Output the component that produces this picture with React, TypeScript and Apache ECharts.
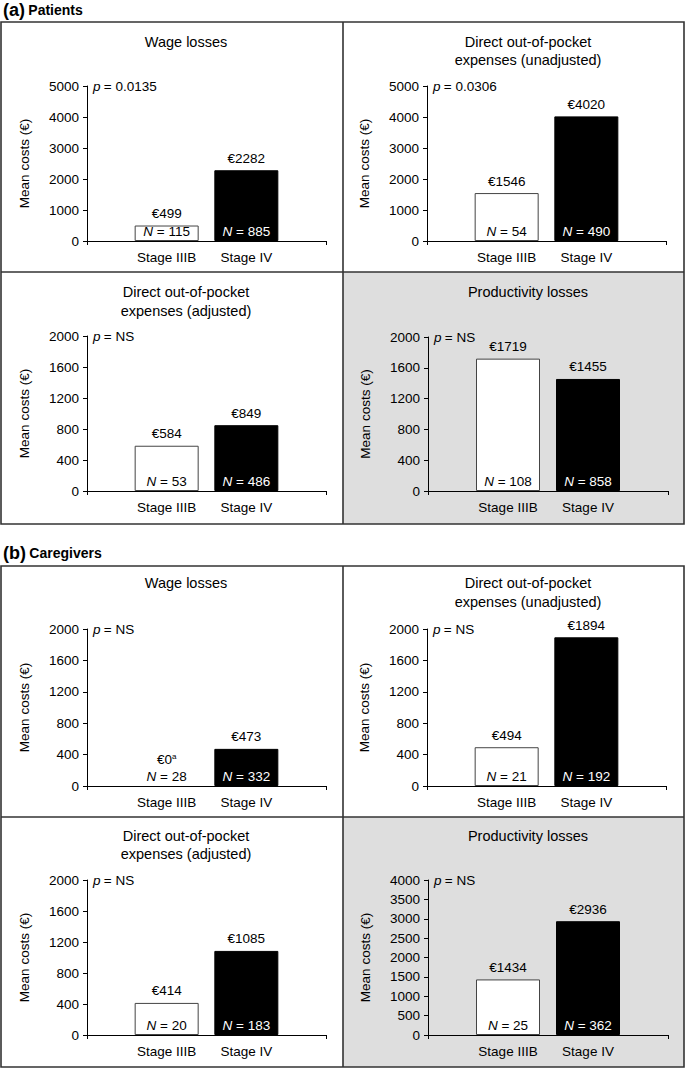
import React, { useEffect, useRef } from "react";
import * as echarts from "echarts";

// ---------- data ----------
const categories = ["", "Stage IIIB", "Stage IV", ""];
const panelTitles = [
  ["Wage losses"],
  ["Direct out-of-pocket", "expenses (unadjusted)"],
  ["Direct out-of-pocket", "expenses (adjusted)"],
  ["Productivity losses"],
  ["Wage losses"],
  ["Direct out-of-pocket", "expenses (unadjusted)"],
  ["Direct out-of-pocket", "expenses (adjusted)"],
  ["Productivity losses"],
];
const pValues = ["0.0135", "0.0306", "NS", "NS", "NS", "NS", "NS", "NS"];
const stageIIIBCosts = [499, 1546, 584, 1719, 0, 494, 414, 1434];
const stageIVCosts = [2282, 4020, 849, 1455, 473, 1894, 1085, 2936];
const stageIIIBN = [115, 54, 53, 108, 28, 21, 20, 25];
const stageIVN = [885, 490, 486, 858, 332, 192, 183, 362];
const stageIIIBFootnote = ["", "", "", "", "a", "", "", ""];
const yMax = [5000, 5000, 2000, 2000, 2000, 2000, 2000, 4000];
const yInterval = [1000, 1000, 400, 400, 400, 400, 400, 500];
const sectionLabels = [
  ["(a)", "Patients"],
  ["(b)", "Caregivers"],
];
const yAxisName = "Mean costs (€)";

// ---------- layout ----------
const FONT = '"Liberation Sans", Arial, Helvetica, sans-serif';
const layout = [
  { cx: 1, cy: 22, gx: 87, gy: 86, gw: 239, gh: 155, ty: [42] },
  { cx: 343, cy: 22, gx: 427, gy: 86, gw: 239, gh: 155, ty: [42, 60] },
  { cx: 1, cy: 272, gx: 87, gy: 336, gw: 239, gh: 155, ty: [292, 311] },
  { cx: 343, cy: 272, gx: 428, gy: 337, gw: 240, gh: 154, ty: [292] },
  { cx: 1, cy: 566, gx: 87, gy: 629, gw: 239, gh: 157, ty: [583] },
  { cx: 343, cy: 566, gx: 427, gy: 629, gw: 239, gh: 157, ty: [583, 602] },
  { cx: 1, cy: 817, gx: 87, gy: 880, gw: 239, gh: 155, ty: [836, 854] },
  { cx: 343, cy: 817, gx: 428, gy: 880, gw: 240, gh: 155, ty: [836] },
];
const boxes = [
  { y: 22, h: 502, mid: 272, label: 10 },
  { y: 566, h: 501, mid: 817, label: 553 },
];
const GRAY = "#dedede";
const LINE = "#333";

function buildOption() {
  const grid: any[] = [];
  const xAxis: any[] = [];
  const yAxis: any[] = [];
  const series: any[] = [];
  const graphic: any[] = [];

  boxes.forEach((b, bi) => {
    graphic.push({
      type: "rect",
      z: -5,
      shape: { x: 343, y: b.mid, width: 341, height: b.y + b.h - b.mid },
      style: { fill: GRAY },
    });
    graphic.push({
      type: "rect",
      z: 50,
      shape: { x: 1, y: b.y, width: 683, height: b.h },
      style: { fill: "none", stroke: LINE, lineWidth: 1.6 },
    });
    graphic.push({
      type: "line",
      z: 50,
      shape: { x1: 343, y1: b.y, x2: 343, y2: b.y + b.h },
      style: { stroke: LINE, lineWidth: 1.6 },
    });
    graphic.push({
      type: "line",
      z: 50,
      shape: { x1: 1, y1: b.mid, x2: 684, y2: b.mid },
      style: { stroke: LINE, lineWidth: 1.6 },
    });
    graphic.push({
      type: "text",
      z: 50,
      style: {
        x: 3,
        y: b.label,
        text: `{big|${sectionLabels[bi][0]}} {sm|${sectionLabels[bi][1]}}`,
        textVerticalAlign: "middle",
        fill: "#000",
        rich: {
          big: { fontFamily: FONT, fontWeight: "bold", fontSize: 18, fill: "#000" },
          sm: { fontFamily: FONT, fontWeight: "bold", fontSize: 14, fill: "#000" },
        },
      },
    });
  });

  layout.forEach((L, i) => {
    grid.push({ left: L.gx, top: L.gy, width: L.gw, height: L.gh, containLabel: false });
    xAxis.push({
      type: "category",
      gridIndex: i,
      data: categories,
      boundaryGap: false,
      axisLine: { lineStyle: { color: "#000", width: 1 } },
      axisTick: {
        length: 4,
        lineStyle: { color: "#000" },
        interval: (idx: number) => idx === 0 || idx === categories.length - 1,
      },
      axisLabel: {
        interval: 0,
        color: "#000",
        fontFamily: FONT,
        fontSize: 13.5,
        margin: 9,
      },
      splitLine: { show: false },
    });
    yAxis.push({
      type: "value",
      gridIndex: i,
      min: 0,
      max: yMax[i],
      interval: yInterval[i],
      name: yAxisName,
      nameLocation: "middle",
      nameRotate: 90,
      nameGap: 56,
      nameTextStyle: { color: "#000", fontFamily: FONT, fontSize: 13.5 },
      axisLine: { show: true, lineStyle: { color: "#000", width: 1 } },
      axisTick: { show: true, length: 4, lineStyle: { color: "#000" } },
      axisLabel: {
        color: "#000",
        fontFamily: FONT,
        fontSize: 13.5,
        margin: 8,
        formatter: (v: number) => String(v),
      },
      splitLine: { show: false },
    });

    const v3 = stageIIIBCosts[i];
    const v4 = stageIVCosts[i];
    const fn = stageIIIBFootnote[i];
    series.push({
      type: "bar",
      xAxisIndex: i,
      yAxisIndex: i,
      barWidth: 64,
      barGap: "-100%",
      z: 3,
      data: [
        "-",
        {
          value: v3,
          itemStyle: {
            color: v3 === 0 ? "transparent" : "#fff",
            borderColor: v3 === 0 ? "transparent" : "#444",
            borderWidth: v3 === 0 ? 0 : 1,
          },
          label: {
            distance: v3 === 0 ? 20 : 5,
            formatter: "€" + v3 + (fn ? `{sup|${fn}}` : ""),
          },
        },
        {
          value: v4,
          itemStyle: { color: "#000", borderColor: "#000", borderWidth: 1 },
          label: { formatter: "€" + v4 },
        },
        "-",
      ],
      label: {
        show: true,
        position: "top",
        distance: 5,
        color: "#000",
        fontFamily: FONT,
        fontSize: 13.5,
        rich: {
          sup: { fontFamily: FONT, fontSize: 8, color: "#000", padding: [0, 0, 6, 0] },
        },
      },
    });
    series.push({
      type: "bar",
      xAxisIndex: i,
      yAxisIndex: i,
      barWidth: 64,
      barGap: "-100%",
      z: 4,
      itemStyle: { color: "transparent" },
      data: [
        "-",
        {
          value: v3,
          label: {
            color: "#000",
            formatter: `{i|N} = ${stageIIIBN[i]}`,
            rich: { i: { fontFamily: FONT, fontSize: 13.5, fontStyle: "italic", color: "#000" } },
          },
        },
        {
          value: v4,
          label: {
            color: "#fff",
            formatter: `{i|N} = ${stageIVN[i]}`,
            rich: { i: { fontFamily: FONT, fontSize: 13.5, fontStyle: "italic", color: "#fff" } },
          },
        },
        "-",
      ],
      label: {
        show: true,
        position: "insideBottom",
        distance: 3,
        fontFamily: FONT,
        fontSize: 13.5,
      },
    });

    panelTitles[i].forEach((t, k) => {
      graphic.push({
        type: "text",
        z: 50,
        style: {
          x: L.cx + 185,
          y: L.ty[k],
          text: t,
          textAlign: "center",
          textVerticalAlign: "middle",
          fill: "#000",
          font: `14.5px ${FONT}`,
        },
      });
    });
    graphic.push({
      type: "text",
      z: 50,
      style: {
        x: L.gx + 6,
        y: L.gy,
        text: `{i|p} {n|= ${pValues[i]}}`,
        textVerticalAlign: "middle",
        fill: "#000",
        rich: {
          i: { fontFamily: FONT, fontSize: 13.5, fontStyle: "italic", fill: "#000" },
          n: { fontFamily: FONT, fontSize: 13.5, fill: "#000" },
        },
      },
    });
  });

  return {
    animation: false,
    backgroundColor: "#fff",
    textStyle: { fontFamily: FONT },
    grid,
    xAxis,
    yAxis,
    series,
    graphic: { elements: graphic },
  };
}

export default function App() {
  const ref = useRef<HTMLDivElement>(null);
  useEffect(() => {
    document.body.style.margin = "0";
    if (!ref.current) return;
    const chart = echarts.init(ref.current, undefined, { renderer: "svg" });
    chart.setOption(buildOption() as any);
    return () => chart.dispose();
  }, []);
  return <div ref={ref} style={{ width: 685, height: 1068 }} />;
}
